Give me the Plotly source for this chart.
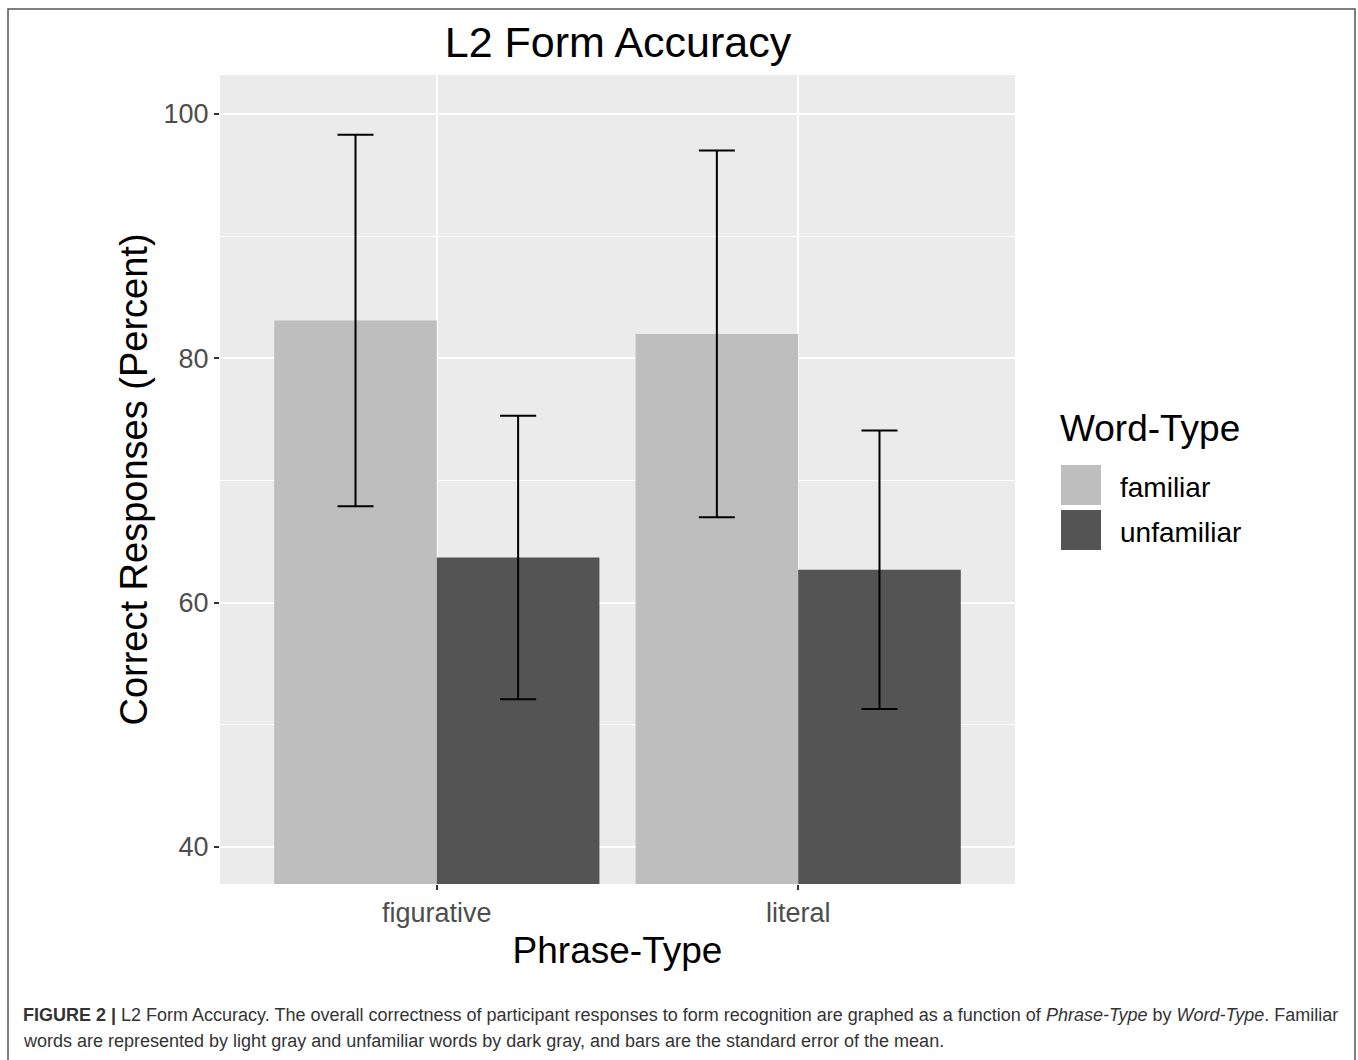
import plotly.graph_objects as go

# ---- data ----
phrase_types = ["figurative", "literal"]
word_types = ["familiar", "unfamiliar"]
familiar_means = [83.1, 82.0]
familiar_se = [15.2, 15.0]
unfamiliar_means = [63.7, 62.7]
unfamiliar_se = [11.6, 11.4]
y_ticks = [40, 60, 80, 100]

colors = {"familiar": "#BEBEBE", "unfamiliar": "#545454"}

W, H = 1358, 1060
PL, PR, PT, PB = 220, 1015, 75, 884  # plot area in pixels


def px(x):
    return (x - PL) / (PR - PL)


def py(y):
    return (PB - y) / (PB - PT)


FONT = "Liberation Sans, Arial, sans-serif"

fig = go.Figure()
for name, means, se in [("familiar", familiar_means, familiar_se),
                        ("unfamiliar", unfamiliar_means, unfamiliar_se)]:
    fig.add_trace(go.Bar(
        x=phrase_types, y=means, name=name,
        marker=dict(color=colors[name], line=dict(width=0)),
        error_y=dict(type="data", array=se, visible=True,
                     color="black", thickness=2, width=18),
        showlegend=False,
    ))

fig.update_layout(
    width=W, height=H,
    margin=dict(l=PL, r=W - PR, t=PT, b=H - PB, pad=0),
    barmode="group", bargap=0.1, bargroupgap=0,
    paper_bgcolor="white", plot_bgcolor="#EBEBEB",
    font=dict(family=FONT, color="black"),
    title=dict(text="L2 Form Accuracy", x=px(618), xref="paper",
               xanchor="center", y=1 - 42 / H, yref="container",
               yanchor="middle", font=dict(size=43, color="black")),
    xaxis=dict(
        range=[-0.6, 1.6], showgrid=True, gridcolor="white", gridwidth=1.6,
        ticks="outside", ticklen=5, tickwidth=1.5, tickcolor="#333333",
        tickfont=dict(size=27, color="#4D4D4D"),
        title=dict(text="Phrase-Type", font=dict(size=37, color="black"),
                   standoff=9),
        zeroline=False, showline=False,
    ),
    yaxis=dict(
        range=[36.97, 103.19], tickvals=y_ticks, showgrid=True,
        gridcolor="white", gridwidth=2,
        minor=dict(tickvals=[50, 70, 90], showgrid=True,
                   gridcolor="white", gridwidth=1.3, ticks=""),
        ticks="outside", ticklen=5, tickwidth=1.5, tickcolor="#333333",
        tickfont=dict(size=27, color="#4D4D4D"),
        title=dict(text="Correct Responses (Percent)",
                   font=dict(size=38, color="black"), standoff=4),
        zeroline=False, showline=False,
    ),
)

shapes = []
annotations = []

# outer frame
shapes.append(dict(type="rect", xref="paper", yref="paper",
                   x0=px(8), x1=px(1355), y0=py(1075), y1=py(9),
                   line=dict(color="#555555", width=1.5),
                   fillcolor="rgba(0,0,0,0)", layer="above"))

# legend (manual, to match large keys)
annotations.append(dict(text="Word-Type", xref="paper", yref="paper",
                        x=px(1058), y=py(428), xanchor="left",
                        yanchor="middle", showarrow=False,
                        font=dict(size=37, color="black")))
for i, name in enumerate(word_types):
    top = 465 + i * 45
    shapes.append(dict(type="rect", xref="paper", yref="paper",
                       x0=px(1061), x1=px(1101), y0=py(top + 40), y1=py(top),
                       fillcolor=colors[name], line=dict(width=0)))
    annotations.append(dict(text=name, xref="paper", yref="paper",
                            x=px(1118), y=py(top + 22), xanchor="left",
                            yanchor="middle", showarrow=False,
                            font=dict(size=28, color="black")))

# caption
cap1 = ("<b>FIGURE 2 |</b> L2 Form Accuracy. The overall correctness of participant "
        "responses to form recognition are graphed as a function of "
        "<i>Phrase-Type</i> by <i>Word-Type</i>. Familiar")
cap2 = ("words are represented by light gray and unfamiliar words by dark gray, "
        "and bars are the standard error of the mean.")
for txt, yc in [(cap1, 1015), (cap2, 1041)]:
    annotations.append(dict(text=txt, xref="paper", yref="paper",
                            x=px(21), y=py(yc), xanchor="left",
                            yanchor="middle", showarrow=False,
                            font=dict(size=18, color="#333333", family=FONT)))

fig.update_layout(shapes=shapes, annotations=annotations)

fig.write_html("out.html",
               config={"displayModeBar": False},
               post_script="document.body.style.margin='0';"
                           "document.body.style.overflow='hidden';")
